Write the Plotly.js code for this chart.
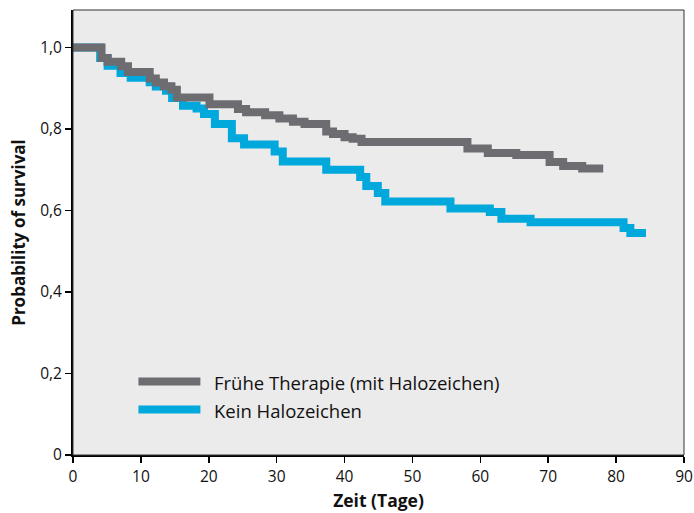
<!DOCTYPE html>
<html>
<head>
<meta charset="utf-8">
<script src="https://cdn.plot.ly/plotly-3.0.1.min.js"></script>
<style>html,body{margin:0;padding:0;background:#fff;}#chart{width:694px;height:513px;}</style>
</head>
<body>
<div id="chart"></div>
<script>
// Frühe Therapie (mit Halozeichen)
var grayName = "Frühe Therapie (mit Halozeichen)";
var grayTime = [0,4.2,5.1,7.1,8.1,11.3,12.2,13.4,14.5,15.3,20.1,24.3,25.5,28.3,30.4,32.4,34.1,37.3,38.3,40.0,41.2,42.5,58.1,61.1,65.3,70.2,72.2,75.0,78.1];
var graySurv = [1.0,0.974,0.965,0.954,0.94,0.924,0.914,0.905,0.896,0.877,0.861,0.849,0.841,0.834,0.826,0.818,0.812,0.794,0.788,0.780,0.776,0.768,0.752,0.741,0.736,0.719,0.709,0.703,0.703];
// Kein Halozeichen
var blueName = "Kein Halozeichen";
var blueTime = [0,4.0,5.1,7.0,8.5,11.3,12.2,13.7,14.6,16.2,18.2,19.3,20.9,23.4,25.2,29.7,30.9,37.3,42.3,43.2,44.9,46.0,55.6,61.4,63.1,67.4,81.1,82.1,84.4];
var blueSurv = [1.0,0.974,0.955,0.9375,0.926,0.915,0.904,0.894,0.876,0.857,0.85,0.837,0.812,0.777,0.762,0.745,0.72,0.70,0.682,0.66,0.643,0.622,0.605,0.596,0.58,0.571,0.557,0.545,0.545];

var xTicks = [0,10,20,30,40,50,60,70,80,90];
var yTicks = [0,0.2,0.4,0.6,0.8,1.0];
var yTickText = ["0","0,2","0,4","0,6","0,8","1,0"];

var grayColor = "#6d6d71";
var blueColor = "#00a8db";
var font = "Open Sans, Noto Sans, sans-serif";

var traces = [
  {x: blueTime, y: blueSurv, name: blueName, type: "scatter", mode: "lines",
   line: {shape: "hv", width: 8, color: blueColor}, showlegend: false},
  {x: grayTime, y: graySurv, name: grayName, type: "scatter", mode: "lines",
   line: {shape: "hv", width: 8, color: grayColor}, showlegend: false}
];

// manual legend positions (pixel -> paper)
function px2xp(px){ return (px - 72.5) / 611.5; }
function py2yp(py){ return (455.5 - py) / 445.5; }
var legendItems = [{name: grayName, color: grayColor, y: 382}, {name: blueName, color: blueColor, y: 410}];
var shapes = [
  {type: "rect", xref: "paper", yref: "paper", x0: 0, x1: 1, y0: 0, y1: 1,
   line: {color: "#333", width: 1}, fillcolor: "rgba(0,0,0,0)", layer: "above"}
];
var annotations = [];
legendItems.forEach(function(it){
  shapes.push({type: "line", xref: "paper", yref: "paper", x0: px2xp(138), x1: px2xp(200),
    y0: py2yp(it.y), y1: py2yp(it.y), line: {color: it.color, width: 8}});
  annotations.push({xref: "paper", yref: "paper", x: px2xp(212), y: py2yp(it.y + 1),
    xanchor: "left", yanchor: "middle", text: it.name, showarrow: false,
    font: {family: font, size: 18.5, color: "#111"}});
});

var layout = {
  width: 694, height: 513,
  margin: {l: 72.5, r: 10, t: 10, b: 57.5},
  paper_bgcolor: "#ffffff",
  plot_bgcolor: "#ebebeb",
  font: {family: font, size: 15.5, color: "#111"},
  xaxis: {range: [0, 90], tickvals: xTicks, ticks: "outside", ticklen: 6, tickwidth: 1.5,
    tickcolor: "#000", showline: true, linecolor: "#000", linewidth: 2, showgrid: false,
    zeroline: false, tickfont: {family: font, size: 15.5, color: "#111"},
    title: {text: "<b>Zeit (Tage)</b>", font: {family: font, size: 17.5, color: "#111"}, standoff: 9}},
  yaxis: {range: [0, 1.092], tickvals: yTicks, ticktext: yTickText, ticks: "outside", ticklen: 6,
    tickwidth: 1.5, tickcolor: "#000", showline: true, linecolor: "#000", linewidth: 2,
    showgrid: false, zeroline: false, tickfont: {family: font, size: 15.5, color: "#111"},
    title: {text: "<b>Probability of survival</b>", font: {family: font, size: 17, color: "#111"}, standoff: 10}},
  shapes: shapes,
  annotations: annotations,
  showlegend: false
};

Plotly.newPlot("chart", traces, layout, {displayModeBar: false, staticPlot: true});
</script>
</body>
</html>
